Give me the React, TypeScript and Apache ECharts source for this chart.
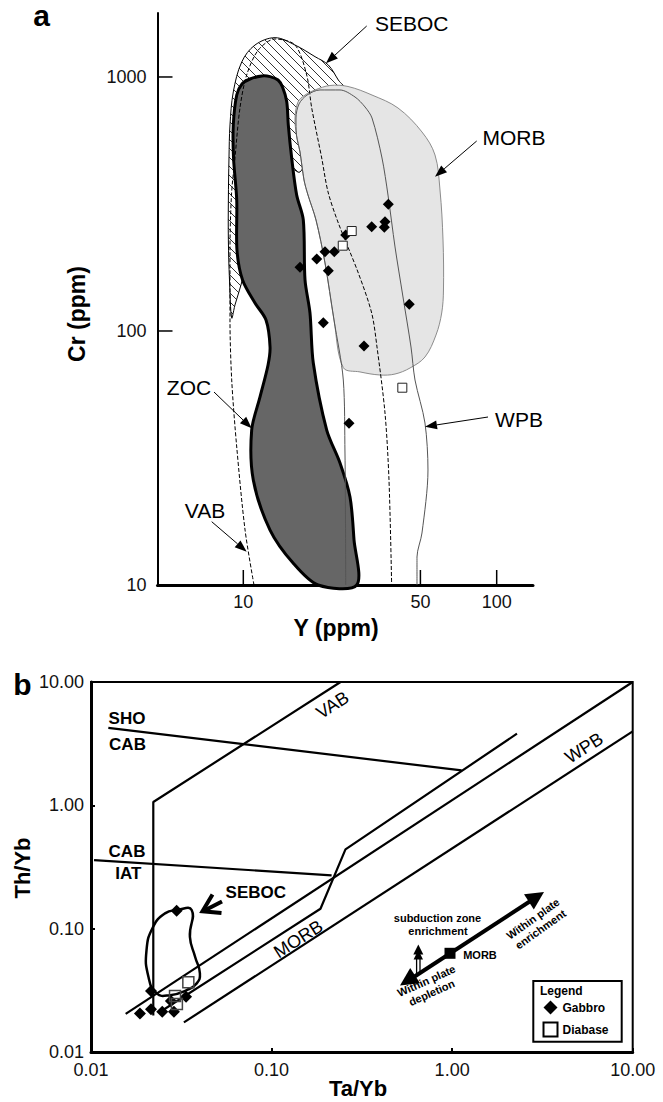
import React, { useEffect, useRef } from 'react';
import * as echarts from 'echarts';

const FONT = '"Liberation Sans", Arial, Helvetica, sans-serif';

// ---------- Panel a : Cr (ppm) vs Y (ppm) ----------
const A_X_MIN = 4.585;
const A_X_MAX = 139.1;
const A_Y_MIN = 10;
const A_Y_MAX = 1786;
const aXTicks = [10, 50, 100];
const aYTicks = [10, 100, 1000];

const aGabbro = [
  [37.35, 315.4], [32.11, 257.4], [36.24, 269.3], [36.01, 256.0], [25.36, 238.8],
  [21.01, 205.2], [22.86, 205.2], [19.49, 192.1], [16.74, 178.1], [21.65, 172.8],
  [45.19, 127.4], [20.69, 107.8], [29.95, 87.3], [26.13, 43.3],
];
const aDiabase = [[26.78, 247.5], [24.69, 216.7], [42.42, 59.8]];

// SEBOC field (hatched)
const aSeboc = [
  [9.0, 112.5], [8.82, 158.8], [8.73, 228.2], [8.73, 327.8], [8.78, 479.8], [8.86, 647.2],
  [9.13, 873], [9.86, 1146], [11.12, 1336], [13.34, 1428], [16.0, 1336], [19.19, 1202],
  [21.65, 1115], [23.71, 973], [25.19, 889], [21.98, 677], [18.33, 516], [16.74, 422.7],
  [15.15, 438.3], [12.75, 327.8], [10.63, 208.4], [9.79, 151.7], [9.27, 126.6],
];
// ZOC field (dark)
const aZoc = [
  [11.85, 1009], [12.75, 1003], [13.71, 973], [14.28, 913], [14.84, 799], [15.05, 647.2],
  [15.52, 479.8], [16.24, 343], [17.25, 273.5], [17.52, 158.8], [18.33, 117.7], [18.89, 74.8],
  [21.34, 40.75], [24.08, 30.22], [26.37, 22.21], [27.35, 15.04], [28.03, 10], [19.72, 10],
  [15.75, 12.17], [12.75, 16.46], [10.95, 25.9], [10.79, 40.75], [11.64, 54.98], [12.52, 73.5],
  [12.75, 86.5], [12.29, 110.5], [11.12, 128.9], [9.93, 158.8], [9.44, 208.4], [9.42, 327.8],
  [9.15, 479.8], [9.13, 647.2], [9.42, 849], [9.88, 938], [10.63, 982],
];
// MORB field (light grey)
const aMorb = [
  [16.0, 689.7], [16.44, 797], [17.52, 849], [19.19, 889], [21.98, 925.7], [25.89, 917.4],
  [32.2, 849], [40.78, 755], [50.72, 607.4], [57.09, 493], [59.74, 359], [61.4, 228.2],
  [61.66, 145], [60.67, 117.7], [57.6, 96.4], [52.12, 79.0], [45.49, 71.5], [39.7, 67.7],
  [34.63, 67.1], [28.88, 69.0], [24.81, 71.8], [22.8, 110.5], [21.01, 185.3], [19.36, 273.5],
  [18.0, 343], [17.36, 393], [16.74, 506.7], [16.21, 591],
];
// WPB field boundary (thin solid)
const aWpb = [
  [25.36, 10], [25.31, 18.03], [25.19, 33.08], [24.81, 64.13], [22.8, 110.5], [21.01, 185.3],
  [19.36, 273.5], [18.0, 343], [17.36, 393], [16.74, 506.7], [16.21, 591], [16.14, 689.7],
  [16.59, 783], [17.84, 849], [20.08, 889], [24.08, 889], [27.6, 834], [30.22, 762],
  [32.2, 689.7], [35.27, 479.8], [37.24, 343], [39.7, 214.2], [42.68, 136.1], [45.9, 86.5],
  [47.6, 64.13], [52.12, 43.42], [53.56, 28.37], [50.72, 16.02], [48.47, 12.89], [48.47, 10],
];
// VAB field boundary (dashed)
const aVab = [
  [11.02, 10], [10.16, 16.46], [9.42, 34.94], [9.0, 64.13], [8.86, 110.5], [8.86, 208.4],
  [8.98, 343], [9.27, 479.8], [9.7, 755], [10.31, 1018], [11.46, 1277], [13.34, 1411],
  [16.0, 1336], [17.79, 1018], [18.62, 755], [20.39, 479.8], [21.6, 352.5], [23.71, 266.2],
  [28.44, 169.1], [32.11, 117.7], [33.7, 86.5], [36.24, 47.55], [37.58, 25.9], [38.5, 10],
];

// ---------- Panel b : Th/Yb vs Ta/Yb ----------
const B_MIN = 0.01;
const B_MAX = 10;
const bGabbro = [
  [0.01867, 0.0205], [0.0215, 0.0222], [0.0248, 0.0212], [0.0288, 0.0212],
  [0.0215, 0.0313], [0.0277, 0.0259], [0.0336, 0.0281], [0.0298, 0.1397],
];
const bDiabase = [[0.0346, 0.0367], [0.0292, 0.0284], [0.0299, 0.0245]];
const bArrayUpper = [[0.01556, 0.0204], [10, 10]];
const bArrayMiddle = [[0.0241, 0.0211], [0.1866, 0.145], [0.2566, 0.44], [2.286, 3.81]];
const bArrayLower = [[0.0327, 0.01738], [10, 3.98]];
const bVab = [[0.02213, 0.0198], [0.02213, 1.065], [0.241, 10]];
const bShoCab = [[0.01247, 4.24], [1.129, 1.92]];
const bCabIat = [[0.0104, 0.36], [0.215, 0.2705]];
const bSeboc = [
  [0.0298, 0.1416], [0.0361, 0.1416], [0.0353, 0.0859], [0.0377, 0.0592], [0.0401, 0.0434],
  [0.0385, 0.036], [0.0339, 0.0318], [0.0274, 0.0289], [0.0231, 0.0299], [0.0208, 0.0407],
  [0.0203, 0.067], [0.0221, 0.1036], [0.0257, 0.133],
];

function makeHatch() {
  const s = 9;
  const c = document.createElement('canvas');
  c.width = s;
  c.height = s;
  const ctx = c.getContext('2d');
  if (ctx) {
    ctx.fillStyle = '#ffffff';
    ctx.fillRect(0, 0, s, s);
    ctx.strokeStyle = '#000000';
    ctx.lineWidth = 0.8;
    for (const k of [-s, 0, s]) {
      ctx.beginPath();
      ctx.moveTo(k, 0);
      ctx.lineTo(k + s, s);
      ctx.stroke();
    }
  }
  return c;
}

function polySeries(pts: number[][], style: any, z: number, smooth: number, axis: number) {
  return {
    type: 'custom',
    xAxisIndex: axis,
    yAxisIndex: axis,
    z,
    silent: true,
    data: [pts[0]],
    renderItem: (_p: any, api: any) => ({
      type: 'polygon',
      shape: { points: pts.map((p) => api.coord(p)), smooth },
      style,
    }),
  };
}

function lineSeries(pts: number[][], axis: number, color: string, width: number, type: any, smooth: number, z: number) {
  return {
    type: 'line',
    xAxisIndex: axis,
    yAxisIndex: axis,
    data: pts,
    showSymbol: false,
    symbol: 'none',
    smooth,
    silent: true,
    z,
    lineStyle: { color, width, type },
  };
}

function txt(x: number, y: number, text: string, size: number, o: any = {}) {
  return {
    type: 'text',
    x,
    y,
    rotation: o.rot || 0,
    z: 100,
    style: {
      text,
      fontSize: size,
      fontWeight: o.bold ? 'bold' : 'normal',
      fontFamily: FONT,
      fill: o.color || '#000',
      align: o.align || 'center',
      verticalAlign: 'middle',
      lineHeight: o.lh || size * 1.15,
    },
  };
}

function arrow(x1: number, y1: number, x2: number, y2: number, hl = 12, hw = 4.5, lw = 1) {
  const dx = x2 - x1;
  const dy = y2 - y1;
  const L = Math.hypot(dx, dy);
  const ux = dx / L;
  const uy = dy / L;
  const bx = x2 - ux * hl;
  const by = y2 - uy * hl;
  return [
    { type: 'line', z: 100, shape: { x1, y1, x2: bx, y2: by }, style: { stroke: '#000', lineWidth: lw } },
    {
      type: 'polygon',
      z: 100,
      shape: { points: [[x2, y2], [bx - uy * hw, by + ux * hw], [bx + uy * hw, by - ux * hw]] },
      style: { fill: '#000' },
    },
  ];
}

export default function App() {
  const ref = useRef<HTMLDivElement>(null);

  useEffect(() => {
    document.body.style.margin = '0';
    if (!ref.current) return;
    const chart = echarts.init(ref.current, null, { renderer: 'svg' });
    const hatch = { image: makeHatch(), repeat: 'repeat' };

    const axisNone = { show: false };

    const graphics: any[] = [
      // Panel a texts
      txt(41.5, 15, 'a', 30, { bold: true }),
      txt(76.7, 314, 'Cr (ppm)', 23, { bold: true, rot: Math.PI / 2 }),
      txt(336, 627.5, 'Y (ppm)', 23, { bold: true }),
      txt(411.7, 23.3, 'SEBOC', 21),
      ...arrow(366.7, 26, 326, 63.3),
      txt(514, 137.5, 'MORB', 21),
      ...arrow(476.7, 141, 435, 176.7),
      txt(189, 387.5, 'ZOC', 21),
      ...arrow(214, 392, 251.7, 428.3),
      txt(205, 510, 'VAB', 21),
      ...arrow(211.7, 521.7, 246.7, 551.7),
      txt(519, 419, 'WPB', 21),
      ...arrow(488, 417, 425, 426.7),

      // Panel b texts
      txt(22.5, 684, 'b', 30, { bold: true }),
      txt(22, 868, 'Th/Yb', 22, { bold: true, rot: Math.PI / 2 }),
      txt(358, 1088, 'Ta/Yb', 22, { bold: true }),
      txt(127, 718.3, 'SHO', 17, { bold: true }),
      txt(127.5, 744.5, 'CAB', 17, { bold: true }),
      txt(127, 851, 'CAB', 17, { bold: true }),
      txt(128.3, 873.3, 'IAT', 17, { bold: true }),
      txt(255.8, 892.5, 'SEBOC', 17, { bold: true }),
      { type: 'line', z: 100, shape: { x1: 222, y1: 901.5, x2: 204.5, y2: 910.5 }, style: { stroke: '#000', lineWidth: 4 } },
      {
        type: 'polyline', z: 100,
        shape: { points: [[212.5, 894.5], [202.5, 911.2], [221.5, 913]] },
        style: { stroke: '#000', lineWidth: 4, fill: null },
      },
      txt(332.5, 705, 'VAB', 18, { rot: 0.57 }),
      txt(298.3, 939, 'MORB', 18, { rot: 0.57 }),
      txt(584, 748, 'WPB', 18, { rot: 0.57 }),

      // Vector diagram
      { type: 'line', z: 100, shape: { x1: 410, y1: 979.5, x2: 532, y2: 900 }, style: { stroke: '#000', lineWidth: 4 } },
      { type: 'polygon', z: 100, shape: { points: [[400, 985.5], [420, 983.3], [410.2, 968.1]] }, style: { fill: '#000' } },
      { type: 'polygon', z: 100, shape: { points: [[544, 892], [533.8, 909.4], [524, 894.2]] }, style: { fill: '#000' } },
      { type: 'line', z: 100, shape: { x1: 416.6, y1: 957, x2: 416.6, y2: 975 }, style: { stroke: '#000', lineWidth: 1.3 } },
      { type: 'line', z: 100, shape: { x1: 420, y1: 957, x2: 420, y2: 973 }, style: { stroke: '#000', lineWidth: 1.3 } },
      { type: 'polygon', z: 100, shape: { points: [[418.3, 944.5], [413.3, 954.5], [423.3, 954.5]] }, style: { fill: '#000' } },
      { type: 'polygon', z: 100, shape: { points: [[418.3, 950], [413.6, 959.5], [423, 959.5]] }, style: { fill: '#000' } },
      { type: 'rect', z: 100, shape: { x: 444.5, y: 947.8, width: 11, height: 11 }, style: { fill: '#000' } },
      txt(480, 954.7, 'MORB', 11, { bold: true }),
      txt(437.5, 918, 'subduction zone', 11, { bold: true }),
      txt(438, 931, 'enrichment', 11, { bold: true }),
      txt(429, 986.7, 'Within plate\ndepletion', 11, { bold: true, rot: 0.42, lh: 13 }),
      txt(536.7, 924, 'Within plate\nenrichment', 11, { bold: true, rot: 0.62, lh: 13 }),

      // Legend box
      {
        type: 'rect', z: 3,
        shape: { x: 533.3, y: 981, width: 88.4, height: 60.7 },
        style: { fill: '#fff', stroke: '#000', lineWidth: 2 },
      },
      txt(540, 991, 'Legend', 12, { bold: true, align: 'left' }),
    ];

    const option: any = {
      animation: false,
      graphic: { elements: graphics },
      legend: {
        data: [
          { name: 'Gabbro', icon: 'diamond', itemStyle: { color: '#000', opacity: 1 } },
          { name: 'Diabase', icon: 'rect', itemStyle: { color: '#fff', borderColor: '#000', borderWidth: 2, opacity: 1 } },
        ],
        orient: 'vertical',
        left: 542.5,
        top: 1000.5,
        itemWidth: 14,
        itemHeight: 14,
        itemGap: 7,
        padding: 0,
        selectedMode: false,
        z: 6,
        textStyle: { fontSize: 12, fontWeight: 'bold', fontFamily: FONT, color: '#000' },
      },
      grid: [
        { left: 157.5, top: 13, width: 375.5, height: 572, show: false },
        { left: 91, top: 682, width: 541.7, height: 370, show: true, borderColor: '#000', borderWidth: 2 },
      ],
      xAxis: [
        {
          type: 'log', gridIndex: 0, min: A_X_MIN, max: A_X_MAX, logBase: 10,
          axisLine: { show: true, onZero: false, lineStyle: { color: '#000', width: 3 } },
          axisTick: axisNone, axisLabel: axisNone, splitLine: axisNone,
        },
        {
          type: 'log', gridIndex: 1, min: B_MIN, max: B_MAX, logBase: 10,
          axisLine: { show: true, onZero: false, lineStyle: { color: '#000', width: 3 } },
          axisTick: { show: true, inside: true, length: 4, lineStyle: { color: '#000', width: 2 } },
          axisLabel: {
            formatter: (v: number) => v.toFixed(2), fontSize: 18, color: '#111', fontFamily: FONT, margin: 9,
          },
          splitLine: axisNone,
        },
      ],
      yAxis: [
        {
          type: 'log', gridIndex: 0, min: A_Y_MIN, max: A_Y_MAX, logBase: 10,
          axisLine: { show: true, onZero: false, lineStyle: { color: '#000', width: 2 } },
          axisTick: axisNone, axisLabel: axisNone, splitLine: axisNone,
        },
        {
          type: 'log', gridIndex: 1, min: B_MIN, max: B_MAX, logBase: 10,
          axisLine: { show: true, onZero: false, lineStyle: { color: '#000', width: 3 } },
          axisTick: { show: true, inside: true, length: 4, lineStyle: { color: '#000', width: 2 } },
          axisLabel: {
            formatter: (v: number) => v.toFixed(2), fontSize: 18, color: '#111', fontFamily: FONT, margin: 7,
          },
          splitLine: axisNone,
        },
      ],
      series: [
        // Panel a fields
        polySeries(aSeboc, { fill: hatch, stroke: '#000', lineWidth: 1 }, 1, 0.35, 0),
        polySeries(aMorb, { fill: '#e5e5e5', stroke: '#8c8c8c', lineWidth: 1 }, 2, 0.35, 0),
        polySeries(aZoc, { fill: '#666666', stroke: '#000', lineWidth: 3 }, 3, 0.3, 0),
        lineSeries(aVab, 0, '#000', 1, [4, 2], 0.3, 4),
        lineSeries(aWpb, 0, '#555', 1, 'solid', 0.3, 4),
        {
          name: 'Gabbro', type: 'scatter', xAxisIndex: 0, yAxisIndex: 0, data: aGabbro,
          symbol: 'diamond', symbolSize: 11, itemStyle: { color: '#000', opacity: 1 }, z: 5, silent: true,
        },
        {
          name: 'Diabase', type: 'scatter', xAxisIndex: 0, yAxisIndex: 0, data: aDiabase,
          symbol: 'rect', symbolSize: 9, itemStyle: { color: '#fff', borderColor: '#222', borderWidth: 1, opacity: 1 }, z: 5, silent: true,
        },
        // Panel a ticks & tick labels
        {
          type: 'custom', xAxisIndex: 0, yAxisIndex: 0, z: 10, silent: true,
          data: aXTicks.map((v) => [v, A_Y_MIN]),
          renderItem: (_p: any, api: any) => {
            const p = api.coord([api.value(0), api.value(1)]);
            return {
              type: 'group',
              children: [
                { type: 'line', shape: { x1: p[0], y1: p[1], x2: p[0], y2: p[1] - 15 }, style: { stroke: '#000', lineWidth: 1.5 } },
                {
                  type: 'text', x: p[0], y: p[1] + 17,
                  style: { text: String(api.value(0)), fontSize: 18, fontFamily: FONT, fill: '#111', align: 'center', verticalAlign: 'middle' },
                },
              ],
            };
          },
        },
        {
          type: 'custom', xAxisIndex: 0, yAxisIndex: 0, z: 10, silent: true,
          data: aYTicks.map((v) => [A_X_MIN, v]),
          renderItem: (_p: any, api: any) => {
            const p = api.coord([api.value(0), api.value(1)]);
            return {
              type: 'group',
              children: [
                { type: 'line', shape: { x1: p[0], y1: p[1], x2: p[0] + 15, y2: p[1] }, style: { stroke: '#000', lineWidth: 1.5 } },
                {
                  type: 'text', x: p[0] - 11, y: p[1],
                  style: { text: String(api.value(1)), fontSize: 18, fontFamily: FONT, fill: '#111', align: 'right', verticalAlign: 'middle' },
                },
              ],
            };
          },
        },
        // Panel b
        lineSeries(bArrayUpper, 1, '#000', 2.2, 'solid', 0, 4),
        lineSeries(bArrayMiddle, 1, '#000', 2.2, 'solid', 0, 4),
        lineSeries(bArrayLower, 1, '#000', 2.2, 'solid', 0, 4),
        lineSeries(bVab, 1, '#000', 2.2, 'solid', 0, 4),
        lineSeries(bShoCab, 1, '#000', 2.2, 'solid', 0, 4),
        lineSeries(bCabIat, 1, '#000', 2.2, 'solid', 0, 4),
        polySeries(bSeboc, { fill: 'none', stroke: '#000', lineWidth: 2.5 }, 4, 0.5, 1),
        {
          name: 'Gabbro', type: 'scatter', xAxisIndex: 1, yAxisIndex: 1, data: bGabbro,
          symbol: 'diamond', symbolSize: 12, itemStyle: { color: '#000', opacity: 1 }, z: 5, silent: true,
        },
        {
          name: 'Diabase', type: 'scatter', xAxisIndex: 1, yAxisIndex: 1, data: bDiabase,
          symbol: 'rect', symbolSize: 11, itemStyle: { color: 'rgba(255,255,255,0)', borderColor: '#444', borderWidth: 1.5, opacity: 1 }, z: 5, silent: true,
        },
      ],
    };

    chart.setOption(option);
    return () => chart.dispose();
  }, []);

  return <div ref={ref} style={{ width: 663, height: 1102 }} />;
}
